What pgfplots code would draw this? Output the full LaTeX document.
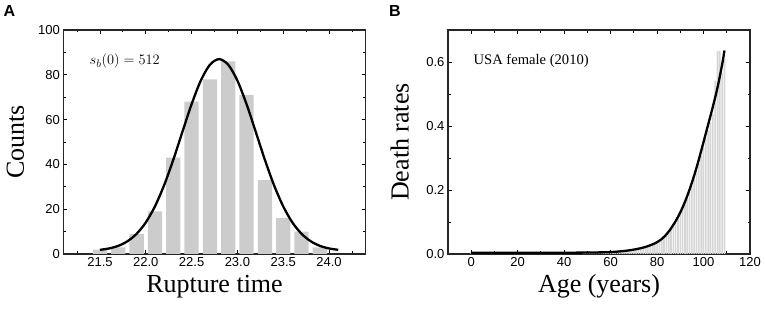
\documentclass[border=0pt]{standalone}
\usepackage{fontspec}
\setmainfont{Liberation Serif}
\newfontfamily\arialf{Liberation Sans}
\usepackage{pgfplots}
\pgfplotsset{compat=1.18}
\pgfplotsset{
  myaxis/.style={
    scale only axis, height=224pt, anchor=south west,
    axis line style={line width=1.2pt, black!85},
    tick align=inside, major tick length=4pt, minor tick length=2.5pt,
    every tick/.style={black, line width=0.9pt},
    tick label style={font=\arialf\fontsize{13}{15}\selectfont},
    /pgf/number format/assume math mode=true,
    every axis x label/.style={at={(axis description cs:0.5,-0.174)}, anchor=base, font=\fontsize{26}{30}\selectfont},
    every axis y label/.style={at={(axis description cs:-0.130,0.5)}, anchor=base, rotate=90, font=\fontsize{26}{30}\selectfont},
  }
}
\begin{document}
\begin{tikzpicture}
\path[use as bounding box] (0pt,0pt) rectangle (765pt,313pt);
% Panel A
\begin{axis}[myaxis, at={(63.3pt,59pt)}, width=302.4pt,
  xmin=21.1, xmax=24.4, ymin=0, ymax=100,
  xtick={21.5,22,22.5,23,23.5,24},
  minor xtick={21.25,21.75,22.25,22.75,23.25,23.75,24.25},
  ytick={0,20,40,60,80,100}, minor ytick={10,30,50,70,90},
  xticklabel style={/pgf/number format/.cd, fixed, fixed zerofill, precision=1},
  xlabel={Rupture time}, ylabel={Counts}]
\addplot[ybar, bar width=0.156, fill=black!20, draw=none] coordinates {
(21.5,2) (21.7,3) (21.9,9) (22.1,19) (22.3,43) (22.5,68) (22.7,78)
(22.9,86) (23.1,71) (23.3,33) (23.5,16) (23.7,10) (23.9,3)};
\addplot[smooth, line width=2.3pt, black] coordinates {
(21.5,1.86) (21.6,2.48) (21.7,3.64) (21.8,5.68) (21.9,9.01) (22.0,14.07)
(22.1,21.25) (22.2,30.68) (22.3,42.04) (22.4,54.55) (22.5,66.87) (22.6,77.38)
(22.7,84.49) (22.8,87.0) (22.9,84.49) (23.0,77.38) (23.1,66.87) (23.2,54.55)
(23.3,42.04) (23.4,30.68) (23.5,21.25) (23.6,14.07) (23.7,9.01) (23.8,5.68)
(23.9,3.64) (24.0,2.48) (24.1,1.86)};
\node[anchor=west, font=\fontsize{15}{18}\selectfont] at (axis cs:21.35,86) {$s_b(0) = 512$};
\end{axis}
% Panel B
\begin{axis}[myaxis, at={(448pt,59pt)}, width=302pt,
  xmin=-10, xmax=120, ymin=0, ymax=0.7,
  xtick={0,20,40,60,80,100,120}, minor xtick={10,30,50,70,90,110},
  ytick={0,0.2,0.4,0.6}, minor ytick={0.1,0.3,0.5},
  yticklabel style={/pgf/number format/.cd, fixed, fixed zerofill, precision=1},
  xlabel={Age (years)}, ylabel={Death rates}]
\addplot[ybar, bar width=0.7, fill=black!16, draw=none] coordinates {
(0,0.0055) (1,0.0004) (2,0.0003) (3,0.0002) (4,0.0002) (5,0.0001) (6,0.0001) (7,0.0001) (8,0.0001) (9,0.0001)
(10,0.0001) (11,0.0001) (12,0.0001) (13,0.0002) (14,0.0002) (15,0.0003) (16,0.0003) (17,0.0003) (18,0.0004) (19,0.0004)
(20,0.0004) (21,0.0005) (22,0.0005) (23,0.0005) (24,0.0005) (25,0.0005) (26,0.0006) (27,0.0006) (28,0.0006) (29,0.0007)
(30,0.0007) (31,0.0007) (32,0.0008) (33,0.0008) (34,0.0009) (35,0.0009) (36,0.0010) (37,0.0011) (38,0.0012) (39,0.0013)
(40,0.0014) (41,0.0015) (42,0.0016) (43,0.0017) (44,0.0019) (45,0.0021) (46,0.0023) (47,0.0025) (48,0.0027) (49,0.0029)
(50,0.0031) (51,0.0033) (52,0.0035) (53,0.0038) (54,0.0041) (55,0.0044) (56,0.0047) (57,0.0050) (58,0.0054) (59,0.0056)
(60,0.0058) (61,0.0062) (62,0.0066) (63,0.0071) (64,0.0077) (65,0.0084) (66,0.0091) (67,0.0100) (68,0.0110) (69,0.0122)
(70,0.0135) (71,0.0148) (72,0.0160) (73,0.0175) (74,0.0192) (75,0.0210) (76,0.0232) (77,0.0256) (78,0.0285) (79,0.0318)
(80,0.0352) (81,0.0398) (82,0.0448) (83,0.0512) (84,0.0580) (85,0.0665) (86,0.0762) (87,0.0866) (88,0.0980) (89,0.1105)
(90,0.1240) (91,0.1390) (92,0.1550) (93,0.1730) (94,0.1920) (95,0.2130) (96,0.2340) (97,0.2580) (98,0.2820) (99,0.3070)
(100,0.3330) (101,0.3590) (102,0.3850) (103,0.4110) (104,0.4380) (105,0.5400) (106,0.6350) (107,0.6350) (108,0.5650) (109,0.6100)};
\addplot[smooth, line width=2.3pt, black] coordinates {
(0,0.004) (10,0.004) (20,0.004) (30,0.004) (40,0.004) (50,0.0045) (55,0.005)
(60,0.006) (63,0.0075) (66,0.0095) (69,0.0125) (72,0.0165) (75,0.022) (78,0.030)
(80,0.037) (82,0.047) (84,0.061) (86,0.080) (88,0.103) (90,0.130) (92,0.163)
(94,0.202) (96,0.246) (98,0.296) (100,0.350) (102,0.405) (104,0.460) (106,0.520)
(108,0.592) (109,0.636)};
\node[anchor=west, font=\fontsize{14.6}{17}\selectfont] at (axis cs:-0.5,0.603) {USA female (2010)};
\end{axis}
\node[anchor=base west, font=\arialf\bfseries\fontsize{16}{18}\selectfont, inner sep=0pt] at (3.3pt,296.3pt) {A};
\node[anchor=base west, font=\arialf\bfseries\fontsize{16}{18}\selectfont, inner sep=0pt] at (389pt,296.3pt) {B};
\end{tikzpicture}
\end{document}
